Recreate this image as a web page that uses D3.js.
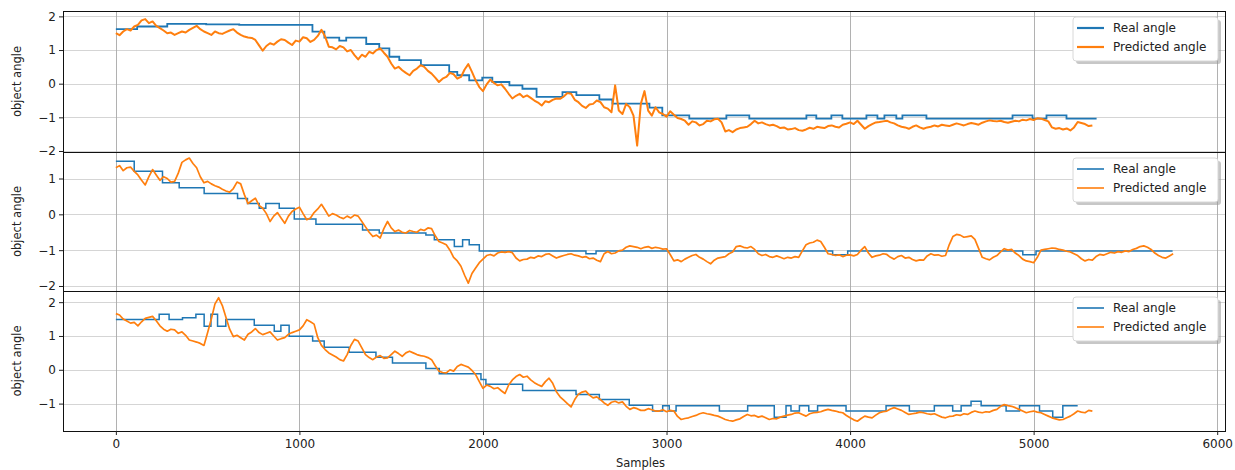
<!DOCTYPE html>
<html>
<head>
<meta charset="utf-8">
<script src="https://cdn.jsdelivr.net/npm/d3@7"></script>
<style>
  body { margin: 0; background: #fff; }
  svg { display: block; font-family: "DejaVu Sans", sans-serif; }
</style>
</head>
<body>
<svg width="1235" height="470"></svg>
<script>
// samples between consecutive predicted values
const STEP = 20;

const seriesNames = ["Real angle", "Predicted angle"];
const xTicks = [0, 1000, 2000, 3000, 4000, 5000, 6000];

// --- top panel ---
const realTopX = [0,116,280,492,672,1071,1136,1217,1255,1364,1435,1490,1544,1662,1816,1860,1925,1996,2051,2144,2215,2292,2433,2509,2634,2705,2907,2977,3124,3326,3451,3762,3816,3898,3958,4089,4149,4187,4252,4285,4416,4885,4994,5070,5179,5343];
const realTopY = [1.62,1.70,1.78,1.76,1.75,1.55,1.37,1.28,1.37,1.18,1.05,0.80,0.70,0.55,0.35,0.25,0.10,0.18,0.05,-0.05,-0.15,-0.39,-0.25,-0.34,-0.47,-0.59,-0.71,-0.94,-1.04,-0.94,-1.04,-0.94,-1.04,-0.94,-1.04,-0.94,-1.04,-0.94,-1.04,-0.94,-1.04,-0.94,-1.04,-0.94,-1.04,-1.04];
const predTop = [
  1.50,1.44,1.55,1.62,1.58,1.70,1.75,1.88,1.92,1.80,1.85,1.72,1.65,1.58,1.50,1.52,1.45,1.50,1.55,1.52,
  1.60,1.66,1.72,1.62,1.55,1.50,1.45,1.55,1.50,1.48,1.53,1.58,1.62,1.52,1.45,1.40,1.37,1.36,1.30,1.14,
  0.98,1.12,1.20,1.16,1.25,1.32,1.30,1.22,1.15,1.28,1.25,1.38,1.35,1.24,1.30,1.42,1.60,1.40,1.10,1.08,
  1.02,1.12,1.08,0.96,1.00,0.85,0.72,0.86,0.80,0.95,0.90,1.00,1.05,0.92,0.80,0.60,0.45,0.50,0.40,0.32,
  0.25,0.38,0.45,0.55,0.50,0.38,0.30,0.18,0.05,0.15,0.20,0.32,0.28,0.15,0.20,0.42,0.58,0.35,0.10,-0.10,
  -0.22,-0.02,0.12,0.02,-0.05,-0.02,-0.15,-0.30,-0.44,-0.36,-0.30,-0.40,-0.35,-0.42,-0.50,-0.56,-0.65,-0.52,-0.55,-0.48,
  -0.44,-0.45,-0.38,-0.28,-0.30,-0.48,-0.55,-0.66,-0.72,-0.62,-0.60,-0.50,-0.55,-0.70,-0.74,-0.85,-0.05,-0.80,-0.90,-0.60,
  -0.70,-0.95,-1.84,-0.60,-0.22,-0.80,-0.95,-0.70,-0.85,-0.90,-0.98,-0.82,-0.92,-1.02,-1.05,-1.10,-1.22,-1.12,-1.15,-1.24,
  -1.20,-1.10,-1.12,-1.06,-1.04,-1.15,-1.42,-1.38,-1.44,-1.36,-1.32,-1.30,-1.28,-1.20,-1.10,-1.18,-1.15,-1.20,-1.24,-1.22,
  -1.26,-1.32,-1.30,-1.36,-1.35,-1.32,-1.38,-1.40,-1.36,-1.31,-1.34,-1.28,-1.30,-1.32,-1.26,-1.24,-1.28,-1.30,-1.22,-1.19,
  -1.15,-1.20,-1.10,-1.22,-1.34,-1.26,-1.20,-1.15,-1.14,-1.12,-1.10,-1.15,-1.18,-1.24,-1.28,-1.30,-1.34,-1.28,-1.24,-1.30,
  -1.34,-1.30,-1.28,-1.24,-1.27,-1.22,-1.24,-1.26,-1.22,-1.18,-1.21,-1.24,-1.20,-1.17,-1.19,-1.22,-1.16,-1.12,-1.09,-1.11,
  -1.12,-1.10,-1.14,-1.16,-1.13,-1.10,-1.12,-1.07,-1.09,-1.05,-1.08,-1.03,-1.04,-1.08,-1.12,-1.30,-1.34,-1.32,-1.36,-1.33,
  -1.39,-1.30,-1.14,-1.17,-1.20,-1.26,-1.24
];
const yTicksTop = [-2, -1, 0, 1, 2];

// --- middle panel ---
const realMidX = [0,100,254,345,481,663,717,781,817,890,972,1090,1344,1435,1689,1735,1844,1889,1925,1980,2561,2616,3905,3987,4941,5013,5757];
const realMidY = [1.48,1.20,0.88,0.74,0.58,0.44,0.30,0.17,0.30,0.17,-0.13,-0.28,-0.44,-0.52,-0.58,-0.71,-0.90,-0.71,-0.85,-1.02,-1.10,-1.02,-1.13,-1.02,-1.13,-1.02,-1.02];
const predMid = [
  1.30,1.36,1.22,1.30,1.32,1.20,1.10,0.95,0.82,1.05,1.25,1.10,0.95,1.05,1.00,0.90,0.92,1.15,1.45,1.52,
  1.57,1.42,1.30,1.05,0.88,0.92,0.85,0.80,0.76,0.70,0.65,0.62,0.72,0.90,0.85,0.55,0.30,0.38,0.45,0.25,
  0.17,0.02,-0.20,-0.05,0.05,-0.10,-0.25,-0.05,0.08,0.15,0.20,0.02,-0.15,-0.10,0.05,0.15,0.28,0.12,-0.05,0.02,
  -0.02,-0.08,-0.12,-0.05,-0.10,-0.02,-0.05,-0.20,-0.35,-0.50,-0.62,-0.58,-0.66,-0.40,-0.20,-0.38,-0.48,-0.44,-0.50,-0.52,
  -0.45,-0.48,-0.50,-0.42,-0.45,-0.38,-0.40,-0.60,-0.76,-0.80,-0.85,-1.00,-1.20,-1.30,-1.45,-1.70,-1.92,-1.65,-1.50,-1.35,
  -1.25,-1.15,-1.12,-1.16,-1.08,-1.05,-1.06,-1.04,-1.07,-1.22,-1.30,-1.26,-1.25,-1.20,-1.22,-1.16,-1.18,-1.12,-1.10,-1.16,
  -1.22,-1.18,-1.15,-1.12,-1.10,-1.14,-1.16,-1.20,-1.18,-1.24,-1.22,-1.28,-1.32,-1.10,-1.04,-1.10,-1.08,-1.02,-1.00,-0.92,
  -0.88,-0.90,-0.92,-0.96,-0.92,-0.90,-0.95,-0.92,-0.94,-0.97,-0.96,-1.12,-1.30,-1.27,-1.32,-1.25,-1.20,-1.15,-1.12,-1.20,
  -1.25,-1.32,-1.38,-1.28,-1.22,-1.20,-1.18,-1.10,-1.05,-0.90,-0.88,-0.92,-0.94,-0.90,-0.98,-1.10,-1.15,-1.12,-1.18,-1.20,
  -1.16,-1.20,-1.24,-1.20,-1.22,-1.18,-1.20,-1.02,-0.85,-0.80,-0.78,-0.72,-0.76,-0.92,-1.10,-1.12,-1.15,-1.13,-1.18,-1.14,
  -1.13,-1.16,-1.12,-1.00,-0.90,-1.08,-1.20,-1.16,-1.14,-1.10,-1.12,-1.20,-1.25,-1.18,-1.15,-1.22,-1.20,-1.26,-1.30,-1.27,
  -1.28,-1.16,-1.10,-1.14,-1.13,-1.17,-1.15,-0.85,-0.62,-0.56,-0.58,-0.64,-0.62,-0.60,-0.70,-0.95,-1.20,-1.24,-1.27,-1.20,
  -1.15,-1.05,-0.96,-1.00,-0.98,-1.08,-1.15,-1.25,-1.30,-1.32,-1.35,-1.20,-1.00,-0.98,-0.96,-0.94,-0.95,-0.98,-1.00,-1.03,
  -1.05,-1.10,-1.15,-1.24,-1.30,-1.26,-1.28,-1.18,-1.12,-1.14,-1.10,-1.06,-1.08,-1.04,-1.06,-1.02,-1.04,-0.98,-0.95,-0.90,
  -0.88,-0.92,-0.98,-1.08,-1.15,-1.20,-1.22,-1.16,-1.10
];
const yTicksMid = [-2, -1, 0, 1];

// --- bottom panel ---
const realBotX = [0,236,290,363,436,481,518,554,599,754,863,899,944,1072,1135,1271,1417,1507,1689,1762,1989,2016,2216,2507,2634,2797,2924,2979,3015,3052,3288,3442,3587,3651,3678,3724,3775,3823,3978,4196,4323,4459,4559,4605,4659,4714,4850,4923,5032,5104,5159,5240];
const realBotY = [1.49,1.64,1.49,1.54,1.64,1.29,1.64,1.29,1.49,1.32,1.14,1.32,0.99,0.85,0.67,0.52,0.37,0.20,0.04,-0.12,-0.29,-0.43,-0.61,-0.73,-0.88,-1.05,-1.22,-1.06,-1.22,-1.06,-1.22,-1.06,-1.40,-1.06,-1.22,-1.06,-1.22,-1.06,-1.22,-1.06,-1.22,-1.06,-1.22,-1.06,-0.93,-1.06,-1.22,-1.06,-1.22,-1.40,-1.06,-1.06];
const predBot = [
  1.66,1.62,1.50,1.44,1.38,1.40,1.30,1.42,1.52,1.55,1.58,1.45,1.30,1.20,1.14,1.20,1.18,1.08,1.12,1.02,
  0.88,0.85,0.82,0.78,0.72,1.10,1.50,1.95,2.13,1.90,1.55,1.20,0.98,1.02,0.95,0.88,1.05,1.12,1.22,1.10,
  1.04,1.08,1.12,1.00,0.88,0.92,0.95,1.05,1.10,1.14,1.18,1.30,1.48,1.42,1.35,0.95,0.72,0.60,0.50,0.44,
  0.38,0.30,0.26,0.45,0.72,0.90,0.85,0.65,0.45,0.36,0.30,0.38,0.42,0.34,0.35,0.45,0.55,0.48,0.40,0.50,
  0.55,0.50,0.45,0.42,0.40,0.36,0.30,0.12,-0.04,-0.08,-0.09,0.00,-0.04,0.10,0.16,0.12,0.08,-0.02,-0.14,-0.35,
  -0.55,-0.45,-0.49,-0.56,-0.53,-0.62,-0.70,-0.45,-0.30,-0.20,-0.14,-0.22,-0.19,-0.30,-0.38,-0.44,-0.49,-0.35,-0.25,-0.40,
  -0.65,-0.80,-0.90,-1.00,-1.10,-0.88,-0.72,-0.66,-0.63,-0.75,-0.83,-0.80,-0.88,-0.98,-1.05,-0.96,-0.93,-0.98,-0.95,-1.08,
  -1.17,-1.12,-1.15,-1.20,-1.20,-1.15,-1.18,-1.22,-1.22,-1.18,-1.24,-1.20,-1.22,-1.38,-1.47,-1.44,-1.42,-1.38,-1.35,-1.30,
  -1.27,-1.30,-1.32,-1.35,-1.37,-1.42,-1.47,-1.50,-1.52,-1.48,-1.45,-1.38,-1.32,-1.36,-1.35,-1.40,-1.37,-1.42,-1.47,-1.44,
  -1.45,-1.40,-1.37,-1.34,-1.32,-1.28,-1.27,-1.32,-1.37,-1.30,-1.27,-1.26,-1.24,-1.20,-1.17,-1.20,-1.22,-1.25,-1.27,-1.35,
  -1.42,-1.48,-1.52,-1.44,-1.37,-1.40,-1.42,-1.34,-1.27,-1.24,-1.22,-1.16,-1.12,-1.16,-1.20,-1.26,-1.32,-1.30,-1.28,-1.25,
  -1.27,-1.30,-1.32,-1.30,-1.35,-1.40,-1.42,-1.38,-1.37,-1.33,-1.35,-1.30,-1.32,-1.26,-1.22,-1.25,-1.27,-1.24,-1.25,-1.20,
  -1.17,-1.08,-1.03,-1.06,-1.08,-1.12,-1.17,-1.22,-1.27,-1.24,-1.22,-1.25,-1.27,-1.32,-1.37,-1.42,-1.45,-1.48,-1.47,-1.42,
  -1.37,-1.30,-1.22,-1.25,-1.27,-1.20,-1.22
];
const yTicksBot = [-1, 0, 1, 2];

const svg = d3.select("svg");
const left = 63, right = 1226;
const blue = "#1f77b4", orange = "#ff7f0e";

const x = d3.scaleLinear().domain([-288, 6048]).range([left, right]);

const panels = [
  { top: 11,  bottom: 152, domain: [-2.03, 2.16], ticks: yTicksTop, rx: realTopX, ry: realTopY, pred: predTop, lw: 2.0 },
  { top: 152, bottom: 291, domain: [-2.14, 1.74], ticks: yTicksMid, rx: realMidX, ry: realMidY, pred: predMid, lw: 1.7 },
  { top: 291, bottom: 431, domain: [-1.81, 2.33], ticks: yTicksBot, rx: realBotX, ry: realBotY, pred: predBot, lw: 1.7 }
];

const fmt = d => d < 0 ? "\u2212" + Math.abs(d) : String(d);

panels.forEach((p, k) => {
    const y = d3.scaleLinear().domain(p.domain).range([p.bottom, p.top]);
    const g = svg.append("g");

    // grid
    g.selectAll(".hgrid").data(p.ticks).enter().append("line")
        .attr("x1", left).attr("x2", right)
        .attr("y1", d => Math.round(y(d)) + 0.5).attr("y2", d => Math.round(y(d)) + 0.5)
        .attr("stroke", "#d0d0d0").attr("stroke-width", 0.9);
    g.selectAll(".vgrid").data(xTicks).enter().append("line")
        .attr("x1", d => Math.round(x(d)) + 0.5).attr("x2", d => Math.round(x(d)) + 0.5)
        .attr("y1", p.top).attr("y2", p.bottom)
        .attr("stroke", "#a8a8a8").attr("stroke-width", 0.9);

    // y axis
    const yAxis = g.append("g")
        .attr("transform", `translate(${left},0)`)
        .call(d3.axisLeft(y).tickValues(p.ticks).tickFormat(fmt).tickSize(4).tickPadding(3));
    yAxis.select(".domain").remove();
    yAxis.selectAll("line").attr("stroke", "#222");
    yAxis.selectAll("text").attr("fill", "#222").style("font-size", "12px")
        .style("font-family", "'DejaVu Sans', sans-serif");

    // lines
    const realData = p.rx.map((v, i) => [v, p.ry[i]]);
    const predData = p.pred.map((v, i) => [i * STEP, v]);
    g.append("path").datum(realData)
        .attr("fill", "none").attr("stroke", blue).attr("stroke-width", p.lw - 0.2)
        .attr("d", d3.line().x(d => x(d[0])).y(d => y(d[1])).curve(d3.curveStepAfter));
    g.append("path").datum(predData)
        .attr("fill", "none").attr("stroke", orange).attr("stroke-width", p.lw)
        .attr("stroke-linejoin", "round")
        .attr("d", d3.line().x(d => x(d[0])).y(d => y(d[1])));

    // frame
    g.append("rect")
        .attr("x", left + 0.5).attr("y", p.top + 0.5)
        .attr("width", right - left - 1).attr("height", p.bottom - p.top)
        .attr("fill", "none").attr("stroke", "#111").attr("stroke-width", 1);

    // y label
    svg.append("text")
        .attr("transform", `translate(17,${(p.top + p.bottom) / 2}) rotate(-90)`)
        .attr("text-anchor", "middle").attr("dominant-baseline", "middle")
        .style("font-size", "11.5px").attr("fill", "#222")
        .text("object angle");

    // legend
    const lx = 1073, ly = p.top + 6, lw = 145, lh = 44;
    const leg = svg.append("g");
    leg.append("rect").attr("x", lx + 3).attr("y", ly + 3).attr("width", lw).attr("height", lh)
        .attr("rx", 3).attr("fill", "#999").attr("opacity", 0.55);
    leg.append("rect").attr("x", lx).attr("y", ly).attr("width", lw).attr("height", lh)
        .attr("rx", 3).attr("fill", "#fff").attr("stroke", "#d8d8d8");
    seriesNames.forEach((name, i) => {
        const yy = ly + 11 + i * 19;
        leg.append("line").attr("x1", lx + 4).attr("x2", lx + 31).attr("y1", yy).attr("y2", yy)
            .attr("stroke", i === 0 ? blue : orange).attr("stroke-width", k === 0 ? 2.2 : 1.6);
        leg.append("text").attr("x", lx + 40).attr("y", yy)
            .attr("dominant-baseline", "central")
            .style("font-size", "12px").attr("fill", "#222").text(name);
    });
});

// x axis on bottom panel
const xAxis = svg.append("g")
    .attr("transform", `translate(0,431)`)
    .call(d3.axisBottom(x).tickValues(xTicks).tickFormat(d3.format("d")).tickSize(4).tickPadding(4));
xAxis.select(".domain").remove();
xAxis.selectAll("line").attr("stroke", "#222");
xAxis.selectAll("text").attr("fill", "#222").style("font-size", "12px")
    .style("font-family", "'DejaVu Sans', sans-serif");

svg.append("text")
    .attr("x", (left + right) / 2 - 4).attr("y", 463)
    .attr("text-anchor", "middle").attr("dominant-baseline", "middle")
    .style("font-size", "11.5px").attr("fill", "#222")
    .text("Samples");
</script>
</body>
</html>
